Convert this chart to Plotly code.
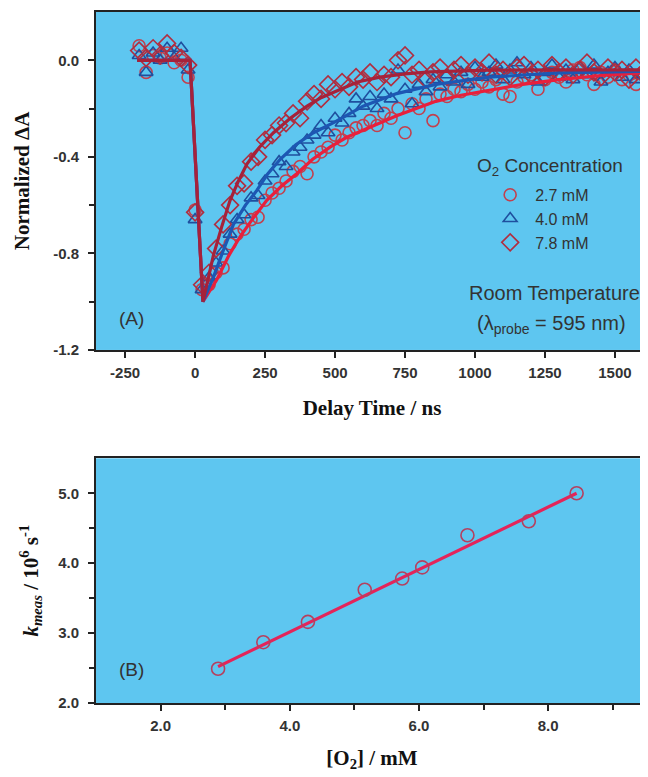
import plotly.graph_objects as go

# ---- panel A: transient absorption decays ----
delay_ns = list(range(-200, 1601, 25))

dA_27mM = [0.06, -0.05, 0.02, 0.01, 0.03, -0.01, 0.00, -0.07, -0.62,
           -0.95, -0.93, -0.88, -0.86, -0.76, -0.72, -0.70, -0.66, -0.65, -0.58,
           -0.55, -0.53, -0.50, -0.46, -0.44, -0.47, -0.40, -0.38, -0.36, -0.31,
           -0.33, -0.30, -0.28, -0.27, -0.25, -0.27, -0.22, -0.24, -0.20, -0.30,
           -0.18, -0.20, -0.16, -0.25, -0.14, -0.15, -0.12, -0.13, -0.10, -0.12,
           -0.09, -0.11, -0.08, -0.14, -0.15, -0.09, -0.07, -0.06, -0.12, -0.08,
           -0.05, -0.07, -0.09, -0.04, -0.03, -0.06, -0.10, -0.05, -0.07, -0.04,
           -0.08, -0.06, -0.10, -0.05]
dA_40mM = [0.02, -0.05, 0.03, 0.00, 0.05, 0.01, 0.05, -0.04, -0.66,
           -0.95, -0.90, -0.84, -0.79, -0.72, -0.66, -0.64, -0.57, -0.56, -0.50,
           -0.47, -0.42, -0.44, -0.38, -0.36, -0.33, -0.31, -0.27, -0.30, -0.24,
           -0.26, -0.22, -0.16, -0.19, -0.15, -0.20, -0.14, -0.16, -0.04, -0.12,
           -0.18, -0.10, -0.13, -0.08, -0.11, -0.06, -0.09, -0.05, -0.10, -0.03,
           -0.07, -0.05, -0.02, -0.08, -0.04, -0.01, -0.06, -0.03, -0.09, -0.05,
           -0.02, -0.07, -0.04, -0.08, -0.03, -0.06, -0.02, -0.09, -0.05, -0.03,
           -0.07, -0.04, -0.08, -0.06]
dA_78mM = [0.04, 0.01, 0.05, 0.02, 0.07, 0.03, 0.01, -0.02, -0.63,
           -0.93, -0.88, -0.78, -0.68, -0.60, -0.52, -0.51, -0.42, -0.40, -0.33,
           -0.31, -0.27, -0.26, -0.22, -0.24, -0.17, -0.14, -0.16, -0.10, -0.12,
           -0.09, -0.11, -0.07, -0.08, -0.05, -0.09, -0.06, -0.07, 0.00, 0.02,
           -0.06, -0.04, -0.08, -0.05, -0.03, -0.07, -0.04, -0.02, -0.06, -0.03,
           -0.05, -0.01, -0.06, -0.04, -0.07, -0.03, -0.02, -0.06, -0.04, -0.07,
           -0.02, -0.05, -0.03, -0.06, -0.04, -0.01, -0.05, -0.07, -0.03, -0.05,
           -0.04, -0.08, -0.03, -0.05]

# fitted curves
fit_t_27 = [-207, -18, 28, 77, 120, 161, 210, 256, 310, 363, 420, 482, 540, 600,
            660, 720, 790, 860, 950, 1050, 1170, 1300, 1450, 1618]
fit_v_27 = [0.0, 0.0, -1.0, -0.91, -0.81, -0.73, -0.65, -0.58, -0.52, -0.47, -0.41,
            -0.36, -0.32, -0.29, -0.26, -0.23, -0.20, -0.17, -0.145, -0.124, -0.10,
            -0.08, -0.063, -0.05]
fit_t_40 = [-207, -18, 28, 65, 100, 137, 180, 220, 260, 304, 360, 423, 500, 600,
            720, 860, 1050, 1300, 1618]
fit_v_40 = [0.0, 0.0, -1.0, -0.90, -0.79, -0.68, -0.60, -0.54, -0.47, -0.41, -0.35,
            -0.30, -0.255, -0.19, -0.138, -0.10, -0.07, -0.052, -0.045]
fit_t_78 = [-207, -18, 28, 65, 95, 125, 155, 185, 230, 280, 340, 400, 450, 500,
            580, 660, 750, 840, 1050, 1300, 1618]
fit_v_78 = [0.0, 0.0, -1.0, -0.81, -0.69, -0.58, -0.50, -0.43, -0.36, -0.30, -0.24,
            -0.19, -0.155, -0.13, -0.09, -0.07, -0.056, -0.048, -0.041, -0.04, -0.04]

# ---- panel B: k_meas vs [O2] ----
o2_mM = [2.89, 3.59, 4.28, 5.16, 5.74, 6.05, 6.75, 7.70, 8.44]
k_meas = [2.49, 2.87, 3.16, 3.62, 3.78, 3.94, 4.40, 4.60, 5.00]
fit_o2 = [2.89, 8.44]
fit_k = [2.52, 5.00]

xA_ticks = [-250, 0, 250, 500, 750, 1000, 1250, 1500]
xA_labels = ['-250', '0', '250', '500', '750', '1000', '1250', '1500']
yA_ticks = [0.0, -0.4, -0.8, -1.2]
yA_labels = ['0.0', '-0.4', '-0.8', '-1.2']

BG = '#5ec6f0'
AX = '#222222'
TXT = '#333333'
SANS = 'Liberation Sans, Arial, sans-serif'
SERIF = 'Liberation Serif, Times New Roman, serif'

fig = go.Figure()

series = [
    ('2.7 mM', dA_27mM, 'circle-open', '#c2404e', 12),
    ('4.0 mM', dA_40mM, 'triangle-up-open', '#1f4f9e', 12),
    ('7.8 mM', dA_78mM, 'diamond-open', '#b02e40', 13),
]
for name, vals, sym, col, sz in series:
    fig.add_trace(go.Scatter(
        x=delay_ns, y=vals, mode='markers', name=name,
        marker=dict(symbol=sym, size=sz, color=col, line=dict(width=1.6, color=col)),
        xaxis='x', yaxis='y'))

for t, v, col in [(fit_t_27, fit_v_27, '#e8203c'),
                  (fit_t_40, fit_v_40, '#1d57b3'),
                  (fit_t_78, fit_v_78, '#a6223a')]:
    fig.add_trace(go.Scatter(x=t, y=v, mode='lines', showlegend=False,
                             line=dict(color=col, width=3.2),
                             xaxis='x', yaxis='y'))

fig.add_trace(go.Scatter(x=fit_o2, y=fit_k, mode='lines', showlegend=False,
                         line=dict(color='#e4245a', width=3.2),
                         xaxis='x2', yaxis='y2'))
fig.add_trace(go.Scatter(x=o2_mM, y=k_meas, mode='markers', showlegend=False,
                         marker=dict(symbol='circle-open', size=13, color='#b5405f',
                                     line=dict(width=1.6, color='#b5405f')),
                         xaxis='x2', yaxis='y2'))

tickfont = dict(family=SANS, size=15, color=TXT, weight='bold')
titlefont = dict(family=SERIF, size=21, color='#111111', weight='bold')
common = dict(showline=True, linecolor=AX, linewidth=2, ticks='outside',
              ticklen=6, tickwidth=1.5, tickcolor=AX, showgrid=False,
              zeroline=False, tickfont=tickfont)

# the page has an 8px body margin, so the figure is sized 8px smaller
fig.update_layout(
    width=640, height=769,
    margin=dict(l=88, r=0, t=4, b=74),
    paper_bgcolor='white', plot_bgcolor=BG,
    xaxis=dict(domain=[0, 1], anchor='y', range=[-354, 1618],
               tickvals=xA_ticks, ticktext=xA_labels, mirror=True,
               ticklabelstandoff=2,
               title=dict(text='Delay Time / ns', font=titlefont, standoff=20),
               **common),
    yaxis=dict(domain=[0.5109, 1], anchor='x', range=[-1.2, 0.2],
               tickvals=yA_ticks, ticktext=yA_labels, ticklabelstandoff=6,
               minor=dict(tickvals=[-0.2, -0.6, -1.0], ticks='outside',
                          ticklen=5, tickcolor=AX, tickwidth=1.5),
               title=dict(text='Normalized ΔA', font=titlefont, standoff=18),
               **common),
    xaxis2=dict(domain=[0, 1], anchor='y2', range=[1.0, 9.545],
                tickvals=[2, 4, 6, 8], tickformat='.1f', mirror=True,
                ticklabelstandoff=2,
                minor=dict(tickvals=[3, 5, 7, 9], ticks='outside', ticklen=5,
                           tickcolor=AX, tickwidth=1.5),
                title=dict(text='[O<sub>2</sub>] / mM', font=titlefont, standoff=17),
                **common),
    yaxis2=dict(domain=[0, 0.3541], anchor='x2', range=[2.0, 5.5],
                tickvals=[2, 3, 4, 5], tickformat='.1f', ticklabelstandoff=6,
                minor=dict(tickvals=[2.5, 3.5, 4.5], ticks='outside', ticklen=5,
                           tickcolor=AX, tickwidth=1.5),
                title=dict(text='<i>k<sub>meas</sub></i> / 10<sup>6</sup> s<sup>-1</sup>',
                           font=titlefont, standoff=14),
                **common),
    legend=dict(x=0.705, y=0.76, xanchor='left', yanchor='top',
                bgcolor='rgba(0,0,0,0)', font=dict(family=SANS, size=16, color=TXT),
                itemwidth=40, tracegroupgap=0),
    annotations=[
        dict(text='O<sub>2</sub> Concentration', x=0.822, y=0.776,
             xref='paper', yref='paper', xanchor='center', yanchor='middle',
             showarrow=False, font=dict(family=SANS, size=19, color=TXT)),
        dict(text='(A)', x=0.065, y=0.556, xref='paper', yref='paper',
             xanchor='center', yanchor='middle',
             showarrow=False, font=dict(family=SANS, size=19, color=TXT)),
        dict(text='(B)', x=0.065, y=0.048, xref='paper', yref='paper',
             xanchor='center', yanchor='middle',
             showarrow=False, font=dict(family=SANS, size=19, color=TXT)),
        dict(text='Room Temperature', x=0.83, y=0.593, xref='paper', yref='paper',
             xanchor='center', yanchor='middle',
             showarrow=False, font=dict(family=SANS, size=20, color=TXT)),
        dict(text='(λ<sub>probe</sub> = 595 nm)', x=0.826, y=0.548, xref='paper',
             yref='paper', xanchor='center', yanchor='middle',
             showarrow=False, font=dict(family=SANS, size=20, color=TXT)),
    ],
)

fig.write_html("out.html")
